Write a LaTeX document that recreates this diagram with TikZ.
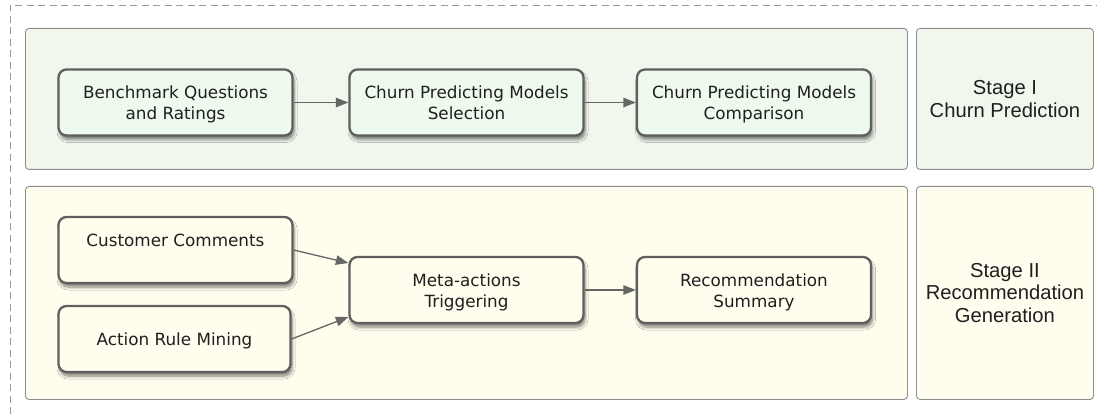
\documentclass[tikz,border=0pt]{standalone}
\usepackage{fontspec}
\setmainfont{DejaVu Sans}
\newfontfamily\labelfont{Liberation Sans}
\usetikzlibrary{arrows.meta,shadows.blur}

\definecolor{panelgreen}{HTML}{F1F7EC}
\definecolor{boxgreen}{HTML}{EEFAEE}
\definecolor{panelyellow}{HTML}{FFFDEE}
\definecolor{boxyellow}{HTML}{FEFDEE}
\definecolor{panelline}{HTML}{8E8E8E}
\definecolor{boxline}{HTML}{5F5F5F}
\definecolor{arrowgray}{HTML}{666666}

% centred lines on a fixed 21pt grid, with zero box size so the shift stays
\newcommand\boxlines[2][-7pt]{\raisebox{#1}[0pt][0pt]{\begin{tabular}{@{}c@{}}#2\end{tabular}}}

\tikzset{
  panel/.style={draw=panelline, line width=0.9pt, rounded corners=3.5pt,
    minimum width=#1, inner sep=0pt, anchor=north west},
  stagelabel/.style={align=center, font=\labelfont\fontsize{20.2}{22.5}\selectfont,
    text=black!88},
  stepbox/.style={draw=boxline, line width=2.3pt, rounded corners=8pt,
    minimum width=234pt, minimum height=66pt, inner sep=0pt,
    font=\fontsize{16.8}{21}\selectfont, text=black!88,
    blur shadow={shadow xshift=1.5pt, shadow yshift=-4pt, shadow blur steps=6,
      shadow blur radius=3pt, shadow opacity=50}},
  arr/.style={draw=arrowgray, line width=1.3pt,
    -{Triangle[length=12.5pt,width=9.5pt]}, fill=arrowgray},
}

\begin{document}
\begin{tikzpicture}[x=1pt,y=-1pt]
\useasboundingbox (0,0) rectangle (1097,414);

% outer dashed frame
\draw[black!40, line width=0.9pt, dash pattern=on 7pt off 4.5pt]
  (10,414) -- (10,5) -- (1100,5);

% stage panels
\node[panel=882pt, minimum height=141pt, fill=panelgreen] (p1) at (25,28) {};
\node[panel=177pt, minimum height=141pt, fill=panelgreen] (s1) at (916,28) {};
\node[panel=882pt, minimum height=213pt, fill=panelyellow] (p2) at (25,186) {};
\node[panel=177pt, minimum height=213pt, fill=panelyellow] (s2) at (916,186) {};

\node[stagelabel] (l1) at (s1.center) {Stage I\\Churn Prediction};
\node[stagelabel] (l2) at (s2.center) {Stage II\\Recommendation\\Generation};

% stage I steps
\node[stepbox, fill=boxgreen] (bq) at (175.5,102.5) {\boxlines{Benchmark Questions\\and Ratings}};
\node[stepbox, fill=boxgreen] (sel) at (466.5,102.5) {\boxlines{Churn Predicting Models\\Selection}};
\node[stepbox, fill=boxgreen] (cmp) at (754,102.5) {\boxlines{Churn Predicting Models\\Comparison}};

% stage II steps
\node[stepbox, fill=boxyellow] (cc) at (175.5,250) {\boxlines{Customer Comments\\\mbox{}}};
\node[stepbox, fill=boxyellow, minimum width=232pt] (arm) at (174.5,339) {\boxlines{Action Rule Mining}};
\node[stepbox, fill=boxyellow] (meta) at (466.5,290) {\boxlines{Meta-actions\\Triggering}};
\node[stepbox, fill=boxyellow] (rec) at (754,290) {\boxlines{Recommendation\\Summary}};

% connectors
\draw[arr] (bq.east) -- (sel.west);
\draw[arr] (sel.east) -- (cmp.west);
\draw[arr] (cc.east) -- ([yshift=27pt]meta.west);
\draw[arr] (arm.east) -- ([yshift=-27pt]meta.west);
\draw[arr] (meta.east) -- (rec.west);
\end{tikzpicture}
\end{document}
